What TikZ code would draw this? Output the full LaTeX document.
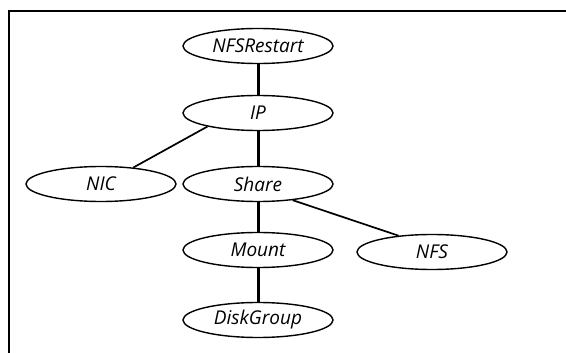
\documentclass[tikz,border=0pt]{standalone}
\usepackage{fontspec}
\setmainfont{Open Sans}
\usetikzlibrary{shapes.geometric}
\begin{document}
\begin{tikzpicture}[x=1pt,y=-1pt,
  res/.style={ellipse,draw,line width=1.4pt,minimum width=150pt,minimum height=35pt,inner sep=0pt,font=\fontsize{19}{22}\selectfont\itshape},
  thick edge/.style={line width=3pt},
  thin edge/.style={line width=1.7pt}]
\useasboundingbox (0,0) rectangle (566,353);
\draw[line width=2pt] (8,11) -- (566,11);
\draw[line width=2pt] (9,10) -- (9,353);
\node[res] (nfsr) at (258,46) {NFSRestart};
\node[res] (ip) at (258,113) {IP};
\node[res] (nic) at (101,184) {NIC};
\node[res] (share) at (258,184) {Share};
\node[res] (mount) at (258,250) {Mount};
\node[res] (nfs) at (432,252) {NFS};
\node[res] (dg) at (258,320) {DiskGroup};
\draw[thick edge] (nfsr) -- (ip);
\draw[thick edge] (ip) -- (share);
\draw[thin edge] (ip.195) -- (nic.27);
\draw[thick edge] (share) -- (mount);
\draw[thin edge] (share.335) -- (nfs.154);
\draw[thick edge] (mount) -- (dg);
\end{tikzpicture}
\end{document}
